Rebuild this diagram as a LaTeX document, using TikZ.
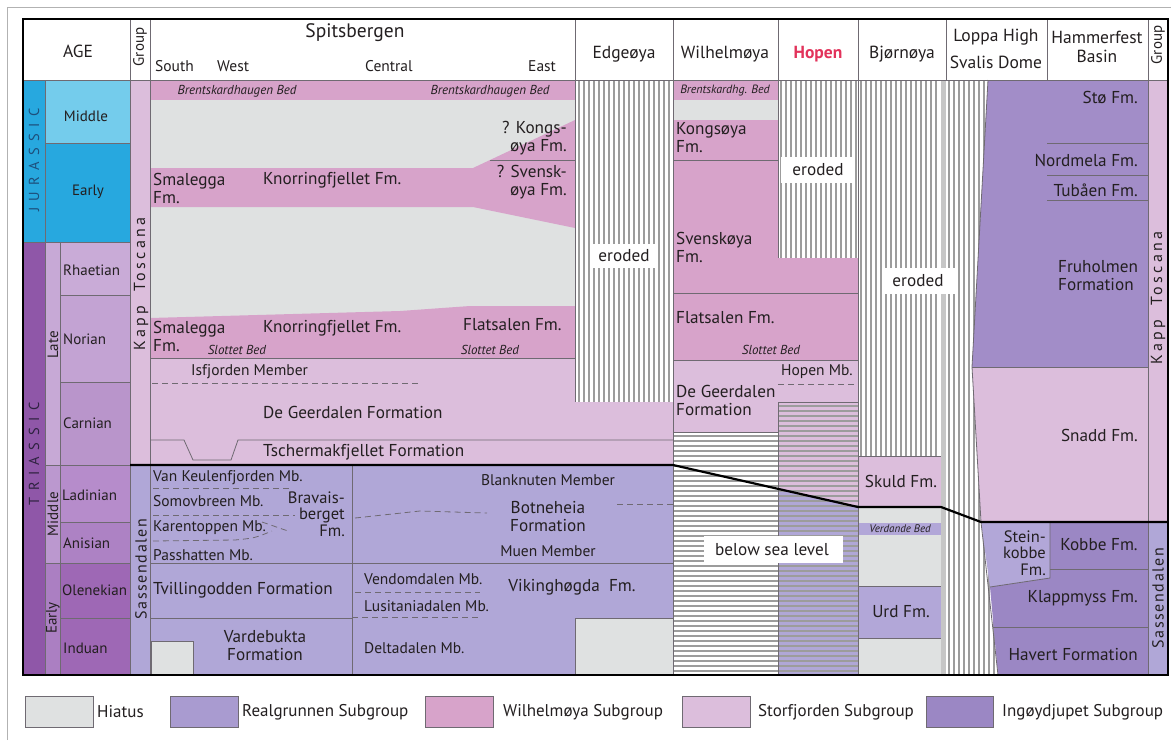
\documentclass[tikz,border=0pt]{standalone}
\usepackage{fontspec}
\setmainfont{PT Sans}
\definecolor{txt}{HTML}{231F20}
\definecolor{linec}{HTML}{6F6A72}
\definecolor{hatchc}{HTML}{9C9C9C}
\definecolor{hiat}{HTML}{DFE1E1}
\definecolor{wil}{HTML}{D7A3CA}
\definecolor{stor}{HTML}{DCBEDC}
\definecolor{real}{HTML}{A99BD0}
\definecolor{ingo}{HTML}{9B87C4}
\definecolor{sass}{HTML}{B0A7D7}
\definecolor{hamr}{HTML}{A28DC8}
\definecolor{lite}{HTML}{B2A7D8}
\definecolor{jur}{HTML}{27A8DF}
\definecolor{jurm}{HTML}{74CCEC}
\definecolor{jurtxt}{HTML}{1D4F7C}
\definecolor{tri}{HTML}{8F57A8}
\definecolor{tritxt}{HTML}{2E2240}
\definecolor{late}{HTML}{C7A9D6}
\definecolor{midl}{HTML}{BB98CF}
\definecolor{earl}{HTML}{AB7FC2}
\definecolor{rhae}{HTML}{C9ABD7}
\definecolor{nori}{HTML}{C3A3D3}
\definecolor{carn}{HTML}{B995CB}
\definecolor{ladi}{HTML}{B68CCB}
\definecolor{anis}{HTML}{AD82C4}
\definecolor{olen}{HTML}{9E68B5}
\definecolor{hopen}{HTML}{E2335B}
\begin{document}
\begin{tikzpicture}[x=1pt,y=-1pt,
  lab/.style={inner sep=0pt,text=txt,font=\fontsize{17.2}{18}\selectfont},
  mem/.style={inner sep=0pt,text=txt,font=\fontsize{15.5}{16.5}\selectfont},
  bed/.style={inner sep=0pt,text=txt,font=\fontsize{13}{14}\selectfont\itshape},
  hdr/.style={inner sep=0pt,text=txt,font=\fontsize{17.5}{19}\selectfont},
  stage/.style={inner sep=0pt,text=txt,font=\fontsize{15}{16}\selectfont},
  grp/.style={inner sep=0pt,text=txt,rotate=90,font=\fontsize{16}{17}\selectfont\addfontfeature{LetterSpace=10}},
  era/.style={inner sep=0pt,rotate=90,font=\fontsize{14.5}{15}\selectfont\addfontfeature{LetterSpace=45}},
  leg/.style={inner sep=0pt,text=txt,font=\fontsize{17}{18}\selectfont,anchor=west},
  legbox/.style={draw=linec,line width=1pt},
  cell/.style={draw=linec,line width=0.8pt},
  dsh/.style={draw=linec,line width=0.8pt,dash pattern=on 6pt off 4pt},
  hatch/.style={draw=hatchc,line width=1.2pt},
  erod/.style={fill=white}
]
\useasboundingbox (0,0) rectangle (1171,740);
\fill[white] (0,0) rectangle (1171,740);
\draw[gray!60,line width=1pt] (7,740) -- (7,7) -- (1171,7);

% ---------------- AGE COLUMN ----------------
\fill[jur] (23,80) rectangle (45,242);
\fill[jurm] (45,80) rectangle (130,143);
\fill[jur] (45,143) rectangle (130,242);
\fill[tri] (23,242) rectangle (45,675);
\fill[late] (45,242) rectangle (60,465);
\fill[midl] (45,465) rectangle (60,563);
\fill[earl] (45,563) rectangle (60,675);
\fill[rhae] (60,242) rectangle (130,295);
\fill[nori] (60,295) rectangle (130,382);
\fill[carn] (60,382) rectangle (130,465);
\fill[ladi] (60,465) rectangle (130,522);
\fill[anis] (60,522) rectangle (130,563);
\fill[olen] (60,563) rectangle (130,675);
\draw[cell] (45,80) -- (45,675);
\draw[cell] (60,242) -- (60,675);
\draw[cell] (45,143) -- (130,143);
\draw[cell] (23,242) -- (130,242);
\draw[cell] (60,295) -- (130,295);
\draw[cell] (60,382) -- (130,382);
\draw[cell] (45,465) -- (130,465);
\draw[cell] (60,522) -- (130,522);
\draw[cell] (45,563) -- (130,563);
\draw[cell] (60,618) -- (130,618);

% ---------------- GROUP COLUMNS ----------------
\fill[stor] (130,80) rectangle (150,465);
\fill[sass] (130,465) rectangle (150,675);
\fill[stor] (1148,80) rectangle (1168,522);
\fill[sass] (1148,522) rectangle (1168,675);

% ---------------- SPITSBERGEN ----------------
\fill[hiat] (150,100) rectangle (575,358);
\fill[wil] (150,80) rectangle (575,100);
\fill[wil] (150,168) -- (473,168) -- (575,120) -- (575,228) -- (473,207) -- (150,207) -- cycle;
\draw[cell] (490,160) -- (575,160);
\fill[wil] (150,318) -- (400,311) -- (470,306) -- (575,306) -- (575,358) -- (150,358) -- cycle;
\fill[stor] (150,358) rectangle (673,465);
\draw[cell] (150,358) -- (575,358);
\draw[dsh] (152,383) -- (420,383);
\draw[cell] (150,440) -- (184,440) -- (193,460) -- (231,460) -- (238,440) -- (673,440);
\fill[sass] (150,465) rectangle (673,675);
\draw[cell] (352,465) -- (352,675);
\draw[cell] (150,563) -- (673,563);
\draw[cell] (150,618) -- (352,618);
\draw[dsh] (153,488) -- (290,488);
\draw[dsh] (153,515) -- (295,515);
\draw[dsh] (153,541) -- (235,540) .. controls (255,538) .. (272,531);
\draw[dsh] (262,522) -- (288,531);
\draw[dsh] (355,518) -- (420,511) -- (487,513);
\draw[dsh] (617,504) -- (673,504);
\draw[dsh] (355,592) -- (480,592);
\draw[dsh] (352,617) -- (478,617);
\fill[hiat] (151,641) rectangle (193,675);
\draw[cell] (151,675) -- (151,641) -- (193,641) -- (193,675);
\fill[hiat] (575,618) rectangle (673,675);
\draw[cell] (575,675) -- (575,618) -- (673,618);

% ---------------- EDGEOYA ----------------
\fill[white] (575,80) rectangle (673,402);
\foreach \x in {579,584,...,670} \draw[hatch] (\x,80) -- (\x,402);
\draw[cell] (575,80) -- (575,402);
\fill[erod] (590,244) rectangle (658,268);

% ---------------- WILHELMOYA / HOPEN ----------------
\fill[wil] (673,80) rectangle (778,100);
\fill[hiat] (673,100) rectangle (778,120);
\fill[wil] (673,120) rectangle (778,360);
\fill[wil] (778,258) rectangle (858,360);
\fill[stor] (673,360) rectangle (858,432);
\fill[white] (673,432) rectangle (778,675);
\fill[stor] (778,402) rectangle (858,675);
\fill[sass] (778,490) -- (858,507) -- (858,675) -- (778,675) -- cycle;
\foreach \y in {436,441,...,672} \draw[hatch] (673,\y) -- (778,\y);
\foreach \y in {406,411,...,672} \draw[hatch] (778,\y) -- (858,\y);
\fill[white] (778,80) rectangle (858,258);
\foreach \x in {781,786,...,856} \draw[hatch] (\x,80) -- (\x,258);
\fill[erod] (781,157) rectangle (855,183);
\draw[cell] (673,160) -- (778,160);
\draw[cell] (673,293) -- (858,293);
\draw[cell] (673,360) -- (858,360);
\draw[cell] (673,432) -- (778,432);
\draw[cell] (778,402) -- (858,402);
\draw[cell] (778,80) -- (778,258);
\draw[cell] (778,402) -- (778,675);
\draw[dsh] (778,384) -- (858,384);
\fill[erod] (704,536) rectangle (843,563);

% ---------------- BJORNOYA ----------------
\fill[white] (858,80) rectangle (946,456);
\foreach \x in {861,866,...,938} \draw[hatch] (\x,80) -- (\x,456);
\fill[stor] (858,456) rectangle (941,507);
\fill[hiat] (858,507) rectangle (941,675);
\fill[lite] (858,523) rectangle (941,535);
\fill[lite] (858,586) rectangle (941,638);
\draw[cell] (858,456) -- (941,456);
\draw[cell] (858,586) -- (941,586);
\draw[cell] (858,638) -- (941,638);
\draw[cell] (941,456) -- (941,675);

% ---------------- LOPPA HIGH ----------------
\fill[white] (946,80) rectangle (1000,675);
\foreach \x in {949,954,...,999} \draw[hatch] (\x,80) -- (\x,675);
\fill[gray!45] (941,80) rectangle (946,675);
\fill[erod] (882,268) rectangle (955,294);

% ---------------- HAMMERFEST ----------------
\fill[hamr] (988,80) -- (1148,80) -- (1148,367) -- (972,367) -- cycle;
\fill[stor] (972,367) -- (1148,367) -- (1148,522) -- (981,522) -- cycle;
\fill[lite] (981,522) -- (1050,522) -- (1050,578) -- (990,587) -- cycle;
\fill[ingo] (1050,522) -- (1148,522) -- (1148,675) -- (998,675) -- (990,587) -- (1050,578) -- cycle;
\draw[cell] (988,80) -- (972,367) -- (981,522) -- (998,675);
\draw[cell] (972,367) -- (1148,367);
\draw[cell] (1047,143) -- (1148,143);
\draw[cell] (1047,175) -- (1148,175);
\draw[cell] (1047,200) -- (1148,200);
\draw[cell] (1050,522) -- (1050,578) -- (990,587);
\draw[cell] (1050,569) -- (1148,569);
\draw[cell] (993,627) -- (1148,627);

% ---------------- MAIN LINES ----------------
\draw[cell] (130,19) -- (130,675);
\draw[cell] (150,19) -- (150,675);
\draw[cell] (673,19) -- (673,675);
\draw[cell] (858,19) -- (858,675);
\draw[cell] (1148,19) -- (1148,675);
\draw[cell] (575,19) -- (575,80);
\draw[cell] (778,19) -- (778,80);
\draw[cell] (946,19) -- (946,80);
\draw[cell] (1047,19) -- (1047,80);
\draw[cell] (23,80) -- (1168,80);
\draw[line width=2.2pt,black] (130,465) -- (673,465) -- (858,507) -- (941,507) -- (981,522) -- (1168,522);
\draw[line width=2pt,black] (23,19) rectangle (1168,675);

% ---------------- HEADER TEXT ----------------
\node[hdr] (hAge) at (78,51) {AGE};
\node[hdr,rotate=90,font=\fontsize{15}{16}\selectfont] (hGrpL) at (140,47) {Group};
\node[hdr,font=\fontsize{19.5}{21}\selectfont] (hSpits) at (355,33) {Spitsbergen};
\node[hdr,anchor=west,font=\fontsize{15.5}{16}\selectfont] (hSouth) at (155,66) {South};
\node[hdr,anchor=west,font=\fontsize{15.5}{16}\selectfont] (hWest) at (217,66) {West};
\node[hdr,anchor=west,font=\fontsize{15.5}{16}\selectfont] (hCentral) at (365,66) {Central};
\node[hdr,anchor=west,font=\fontsize{15.5}{16}\selectfont] (hEast) at (528,66) {East};
\node[hdr] (hEdge) at (624,54) {Edgeøya};
\node[hdr] (hWil) at (725,54) {Wilhelmøya};
\node[hdr,text=hopen,font=\fontsize{17.5}{19}\selectfont\bfseries] (hHopen) at (818,54) {Hopen};
\node[hdr] (hBjorn) at (902,54) {Bjørnøya};
\node[hdr] (hLoppa) at (996,37) {Loppa High};
\node[hdr] (hSvalis) at (996,62) {Svalis Dome};
\node[hdr] (hHammer) at (1097,37) {Hammerfest};
\node[hdr] (hBasin) at (1097,56) {Basin};
\node[hdr,rotate=90,font=\fontsize{15}{16}\selectfont] (hGrpR) at (1158,45) {Group};

% ---------------- AGE TEXT ----------------
\node[era,text=jurtxt] (eJur) at (34,160) {JURASSIC};
\node[era,text=tritxt] (eTri) at (34,454) {TRIASSIC};
\node[stage] (aMidJ) at (86,116) {Middle};
\node[stage] (aEarlyJ) at (88,192) {Early};
\node[stage,rotate=90] (aLate) at (53,345) {Late};
\node[stage,rotate=90] (aMidT) at (53,514) {Middle};
\node[stage,rotate=90] (aEarlyT) at (53,618) {Early};
\node[stage,anchor=west] (sRh) at (63,270) {Rhaetian};
\node[stage,anchor=west] (sNo) at (63,339) {Norian};
\node[stage,anchor=west] (sCa) at (63,423) {Carnian};
\node[stage,anchor=west] (sLa) at (62,495) {Ladinian};
\node[stage,anchor=west] (sAn) at (63,543) {Anisian};
\node[stage,anchor=west] (sOl) at (62,590) {Olenekian};
\node[stage,anchor=west] (sIn) at (63,648) {Induan};

% ---------------- GROUP TEXT ----------------
\node[grp,font=\fontsize{16}{17}\selectfont\addfontfeature{LetterSpace=20}] (gKTL) at (141,284) {Kapp\ \ Toscana};
\node[grp] (gSaL) at (141,569) {Sassendalen};
\node[grp,font=\fontsize{16}{17}\selectfont\addfontfeature{LetterSpace=20}] (gKTR) at (1158,298) {Kapp\ \ Toscana};
\node[grp] (gSaR) at (1158,598) {Sassendalen};

% ---------------- SPITSBERGEN TEXT ----------------
\node[bed] (bBr1) at (237,91) {Brentskardhaugen Bed};
\node[bed] (bBr2) at (490,91) {Brentskardhaugen Bed};
\node[lab,anchor=east,align=right] (tKong) at (567,138) {? Kongs-\\øya Fm.};
\node[lab,anchor=east,align=right] (tSven) at (567,182) {? Svensk-\\øya Fm.};
\node[lab,anchor=west,align=left] (tSmal1) at (153,188) {Smalegga\\Fm.};
\node[lab,anchor=west] (tKnor1) at (263,180) {Knorringfjellet Fm.};
\node[lab,anchor=west,align=left] (tSmal2) at (153,336) {Smalegga\\Fm.};
\node[lab,anchor=west] (tKnor2) at (263,328) {Knorringfjellet Fm.};
\node[lab,anchor=west] (tFlat1) at (463,325) {Flatsalen Fm.};
\node[bed] (bSl1) at (237,350) {Slottet Bed};
\node[bed] (bSl2) at (490,350) {Slottet Bed};
\node[mem,anchor=west] (tIsf) at (191,372) {Isfjorden Member};
\node[lab,anchor=west] (tDeG1) at (263,412) {De Geerdalen Formation};
\node[lab,anchor=west] (tTsch) at (263,452) {Tschermakfjellet Formation};
\node[mem,anchor=west] (tVanK) at (153,478) {Van Keulenfjorden Mb.};
\node[mem,anchor=west] (tSomo) at (153,501) {Somovbreen Mb.};
\node[mem,anchor=west] (tKare) at (153,528) {Karentoppen Mb.};
\node[mem,anchor=west] (tPass) at (153,555) {Passhatten Mb.};
\node[inner sep=0pt,text=txt,font=\fontsize{16.5}{16.5}\selectfont,anchor=east,align=right] (tBrav) at (345,514) {Bravais-\\berget\\Fm.};
\node[lab,anchor=west] (tTvil) at (153,590) {Tvillingodden Formation};
\node[lab,align=center] (tVard) at (265,646) {Vardebukta\\Formation};
\node[mem] (tBlan) at (548,480) {Blanknuten Member};
\node[lab,align=center] (tBotn) at (548,517) {Botneheia\\Formation};
\node[mem] (tMuen) at (548,551) {Muen Member};
\node[mem,anchor=west] (tVend) at (364,579) {Vendomdalen Mb.};
\node[mem,anchor=west] (tLusi) at (364,606) {Lusitaniadalen Mb.};
\node[mem,anchor=west] (tDelt) at (364,648) {Deltadalen Mb.};
\node[lab] (tVik) at (572,587) {Vikinghøgda\ \ Fm.};

% ---------------- OTHER COLUMNS TEXT ----------------
\node[lab] (tEr1) at (624,256) {eroded};
\node[bed,font=\fontsize{12}{13}\selectfont\itshape] (bBrW) at (725,91) {Brentskardhg. Bed};
\node[lab,anchor=west,align=left] (tKongW) at (676,138) {Kongsøya\\Fm.};
\node[lab,anchor=west,align=left] (tSvenW) at (676,247) {Svenskøya\\Fm.};
\node[lab,anchor=west] (tFlatW) at (676,318) {Flatsalen Fm.};
\node[bed] (bSlW) at (771,350) {Slottet Bed};
\node[mem,anchor=west] (tHopMb) at (781,372) {Hopen Mb.};
\node[lab,anchor=west,align=left] (tDeGW) at (676,400) {De Geerdalen\\Formation};
\node[lab] (tBSL) at (772,550) {below sea level};
\node[lab] (tEr2) at (818,170) {eroded};
\node[lab] (tEr3) at (918,281) {eroded};
\node[lab] (tSkul) at (901,481) {Skuld Fm.};
\node[inner sep=0pt,text=txt,font=\fontsize{11}{12}\selectfont\itshape] (bVerd) at (900,529) {Verdande Bed};
\node[lab] (tUrd) at (901,612) {Urd Fm.};
\node[lab,anchor=east] (tSto) at (1138,97) {Stø Fm.};
\node[lab,anchor=east] (tNord) at (1138,160) {Nordmela Fm.};
\node[lab,anchor=east] (tTub) at (1138,190) {Tubåen Fm.};
\node[lab,anchor=west,align=left] (tFru) at (1058,276) {Fruholmen\\Formation};
\node[lab,anchor=east] (tSnad) at (1138,435) {Snadd Fm.};
\node[inner sep=0pt,text=txt,font=\fontsize{16.5}{16.5}\selectfont,anchor=east,align=right] (tStein) at (1046,553) {Stein-\\kobbe\\Fm.};
\node[lab] (tKob) at (1099,545) {Kobbe Fm.};
\node[lab,anchor=east] (tKlap) at (1138,598) {Klappmyss Fm.};
\node[lab,anchor=east] (tHav) at (1138,655) {Havert Formation};

% ---------------- LEGEND ----------------
\draw[legbox,fill=hiat] (25,696) rectangle (93,727);
\node[leg] (lHia) at (97,712) {Hiatus};
\draw[legbox,fill=real] (170,696) rectangle (238,727);
\node[leg] (lRea) at (242,712) {Realgrunnen Subgroup};
\draw[legbox,fill=wil] (425,696) rectangle (493,727);
\node[leg] (lWil) at (503,712) {Wilhelmøya Subgroup};
\draw[legbox,fill=stor] (682,696) rectangle (750,727);
\node[leg] (lSto) at (758,712) {Storfjorden Subgroup};
\draw[legbox,fill=ingo] (926,696) rectangle (993,727);
\node[leg] (lIng) at (1002,712) {Ingøydjupet Subgroup};
\end{tikzpicture}
\end{document}
